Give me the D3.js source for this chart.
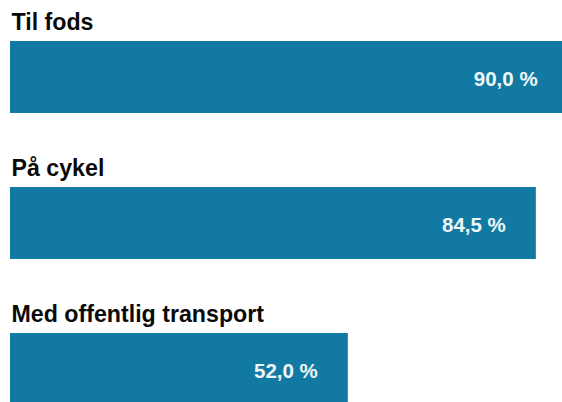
<!DOCTYPE html>
<html>
<head>
<meta charset="utf-8">
<script src="https://cdn.jsdelivr.net/npm/d3@7"></script>
<style>
  html, body { margin: 0; padding: 0; background: #ffffff; }
  svg { display: block; }
</style>
</head>
<body>
<svg id="chart" width="562" height="402"></svg>
<script>
const categories = ["Til fods", "På cykel", "Med offentlig transport"];
const values = [90.0, 84.5, 52.0];

const W = 562, H = 402;
const svg = d3.select("#chart");

const barLeft = 10;
const x = d3.scaleLinear().domain([0, 100]).range([47, 625.5]);
const y = d3.scaleBand().domain(categories).range([41, 41 + 146 * 3]).padding(0);
const barH = 72;

const locale = d3.formatLocale({ decimal: ",", thousands: ".", grouping: [3], currency: ["", " kr."] });
const fmt = locale.format(".1f");

const data = categories.map((c, i) => ({ c, v: values[i] }));

const g = svg.append("g");

g.selectAll("text.title").data(data).join("text")
  .attr("class", "title")
  .attr("x", 11.5)
  .attr("y", d => y(d.c) - 11)
  .attr("font-family", "'Liberation Sans', Arial, Helvetica, sans-serif")
  .attr("font-weight", "bold")
  .attr("font-size", 23.2)
  .attr("fill", "#0a0a0a")
  .text(d => d.c);

g.selectAll("rect.bar").data(data).join("rect")
  .attr("class", "bar")
  .attr("x", barLeft)
  .attr("y", d => y(d.c))
  .attr("width", d => x(d.v) - barLeft)
  .attr("height", barH)
  .attr("fill", "#127aa2");

g.selectAll("text.val").data(data).join("text")
  .attr("class", "val")
  .attr("x", d => x(d.v) - 30)
  .attr("y", d => y(d.c) + barH / 2 + 9)
  .attr("text-anchor", "end")
  .attr("font-family", "'Liberation Sans', Arial, Helvetica, sans-serif")
  .attr("font-weight", "bold")
  .attr("font-size", 20.5)
  .attr("fill", "#eef7fa")
  .text(d => fmt(d.v) + " %");
</script>
</body>
</html>
